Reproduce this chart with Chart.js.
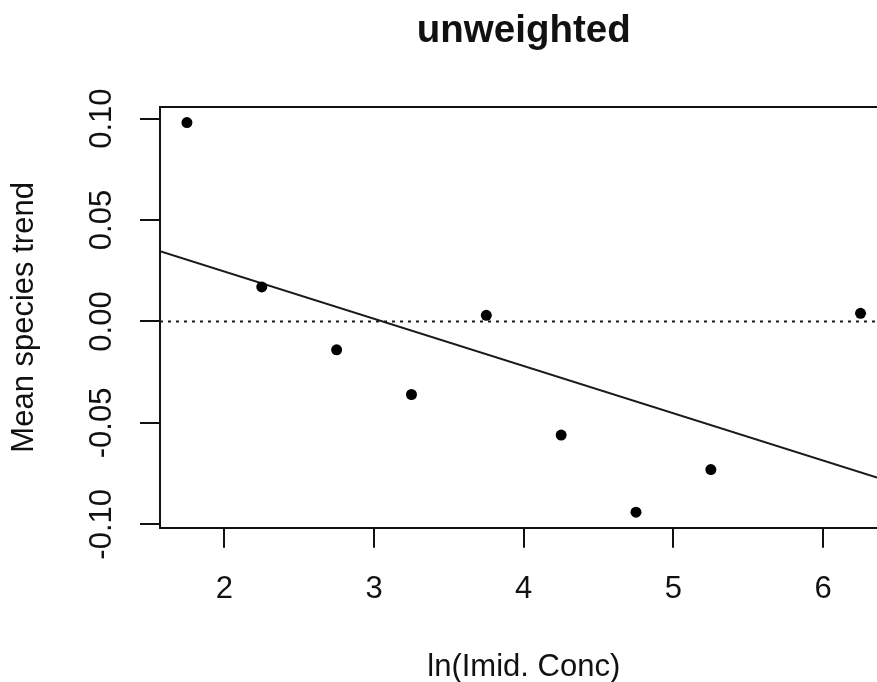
<!DOCTYPE html>
<html>
<head>
<meta charset="utf-8">
<title>unweighted</title>
<script src="https://cdn.jsdelivr.net/npm/chart.js@4.4.0/dist/chart.umd.min.js"></script>
<style>
  html, body { margin: 0; padding: 0; background: #fff; }
  #wrap { width: 877px; height: 682px; }
</style>
</head>
<body>
<div id="wrap"><canvas id="c" width="877" height="682"></canvas></div>
<script>
// ---------- data ----------
const concX     = [1.75, 2.25, 2.75, 3.25, 3.75, 4.25, 4.75, 5.25, 6.25];
const meanTrend = [0.098, 0.017, -0.014, -0.036, 0.003, -0.056, -0.094, -0.073, 0.004];
const fitX = [1.57, 6.36];          // fitted line, ends at the box edges
const fitY = [0.0346, -0.0769];
const xTicks = [2, 3, 4, 5, 6];
const yTicks = [-0.10, -0.05, 0.00, 0.05, 0.10];
const xRange = [1.57, 6.36];        // visible part of the box (it goes on to ~6.43)
const xFullMax = 6.43;
const yRange = [-0.1017, 0.1057];

const FONT = "'Liberation Sans', Arial, sans-serif";
const INK = '#111';

// ---------- R style extras: top edge, rotated y labels, titles ----------
const rPlot = {
  id: 'rPlot',
  afterDraw(chart) {
    const { ctx, chartArea: a, scales: { x, y } } = chart;
    ctx.save();
    ctx.strokeStyle = INK;
    ctx.lineWidth = 2;
    ctx.beginPath();
    ctx.moveTo(a.left, a.top);
    ctx.lineTo(a.right, a.top);
    ctx.stroke();

    ctx.fillStyle = INK;
    ctx.textAlign = 'center';
    ctx.textBaseline = 'alphabetic';

    // y tick labels (parallel to the axis)
    ctx.font = '31px ' + FONT;
    yTicks.forEach(v => {
      ctx.save();
      ctx.translate(111, y.getPixelForValue(v));
      ctx.rotate(-Math.PI / 2);
      ctx.fillText(v.toFixed(2), 0, 0);
      ctx.restore();
    });

    // y title
    ctx.save();
    ctx.translate(33, (a.top + a.bottom) / 2);
    ctx.rotate(-Math.PI / 2);
    ctx.fillText('Mean species trend', 0, 0);
    ctx.restore();

    // x title + main title, centred on the whole box
    const cx = x.getPixelForValue((xRange[0] + xFullMax) / 2);
    ctx.fillText('ln(Imid. Conc)', cx, 676);
    ctx.font = 'bold 38.5px ' + FONT;
    ctx.fillText('unweighted', cx, 42);
    ctx.restore();
  }
};

const ctx = document.getElementById('c').getContext('2d');
new Chart(ctx, {
  type: 'scatter',
  data: {
    datasets: [
      {
        label: 'species',
        data: concX.map((v, i) => ({ x: v, y: meanTrend[i] })),
        backgroundColor: '#000',
        borderWidth: 0,
        pointRadius: 5.5,
        pointHoverRadius: 5.5
      },
      {
        label: 'fit',
        type: 'line',
        data: fitX.map((v, i) => ({ x: v, y: fitY[i] })),
        borderColor: '#1a1a1a',
        borderWidth: 2,
        pointRadius: 0,
        fill: false
      },
      {
        label: 'zero',
        type: 'line',
        data: xRange.map(v => ({ x: v, y: 0 })),
        borderColor: '#1a1a1a',
        borderWidth: 2,
        borderDash: [3, 5],
        pointRadius: 0,
        fill: false
      }
    ]
  },
  options: {
    responsive: false,
    animation: false,
    layout: { autoPadding: false, padding: { left: 140, top: 107, right: 0, bottom: 51 } },
    plugins: {
      legend: { display: false },
      title: { display: false },
      tooltip: { enabled: false }
    },
    scales: {
      x: {
        type: 'linear',
        min: xRange[0],
        max: xRange[1],
        afterBuildTicks: s => { s.ticks = xTicks.map(v => ({ value: v })); },
        afterFit: s => { s.paddingLeft = 0; s.paddingRight = 0; },
        grid: { drawOnChartArea: false, drawTicks: true, tickLength: 20, color: INK, lineWidth: 2 },
        border: { display: true, color: INK, width: 2 },
        ticks: { color: INK, font: { family: FONT, size: 31 }, padding: 23, maxRotation: 0, includeBounds: false }
      },
      y: {
        type: 'linear',
        min: yRange[0],
        max: yRange[1],
        afterBuildTicks: s => { s.ticks = yTicks.map(v => ({ value: v })); },
        afterFit: s => { s.paddingTop = 0; s.paddingBottom = 0; },
        grid: { drawOnChartArea: false, drawTicks: true, tickLength: 20, color: INK, lineWidth: 2 },
        border: { display: true, color: INK, width: 2 },
        ticks: { display: false }
      }
    }
  },
  plugins: [rPlot]
});
</script>
</body>
</html>
